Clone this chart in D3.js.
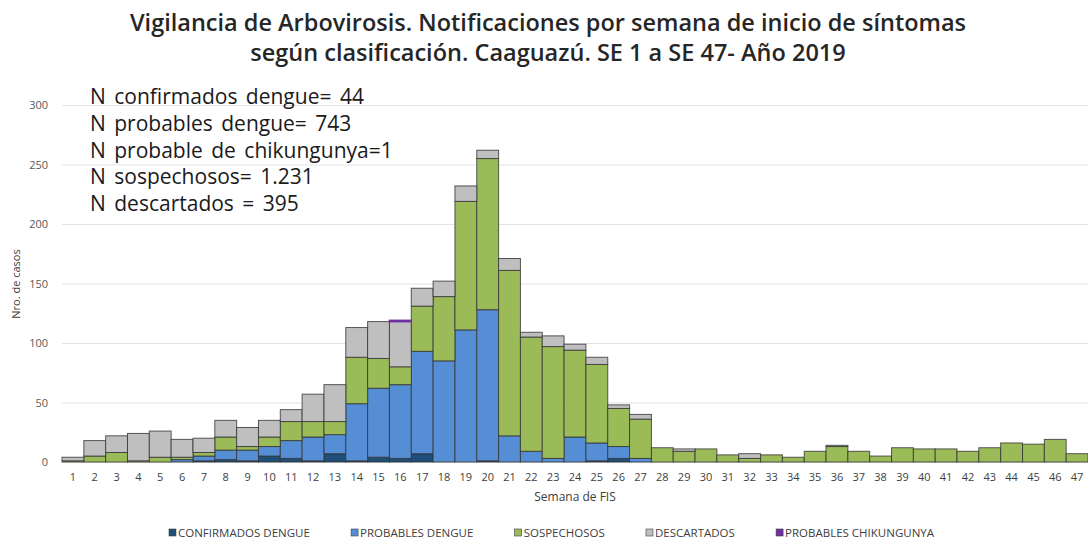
<!DOCTYPE html>
<html>
<head>
<meta charset="utf-8">
<script src="https://cdn.jsdelivr.net/npm/d3@7"></script>
<style>
  html, body { margin: 0; padding: 0; background: #fff; }
  svg { display: block; font-family: "Open Sans", "Noto Sans", sans-serif; }
</style>
</head>
<body>
<svg id="chart" width="1088" height="542"></svg>
<script>
// Semanas epidemiologicas 1..47
const weeks = d3.range(1, 48);

// Series (casos por semana)
const confirmados = [0,0,0,0,0,0,1,2,1,5,3,1,7,1,4,3,7,0,0,1,0,0,0,0,1,3,0,0,0,0,0,0,0,0,0,0,0,0,0,0,0,0,0,0,0,0,0];
const probables   = [0,0,0,0,0,2,4,8,9,8,15,20,16,48,58,62,86,85,111,127,22,9,3,21,15,10,3,0,0,0,0,0,0,0,0,0,0,0,0,0,0,0,0,0,0,0,0];
const sospechosos = [1,5,8,1,4,2,3,11,3,8,16,13,11,39,25,15,38,54,108,127,139,96,94,73,66,32,33,12,9,11,6,3,6,4,9,13,9,5,12,11,11,9,12,16,15,19,7];
const descartados = [3,13,14,23,22,15,12,14,16,14,10,23,31,25,31,38,15,13,13,7,10,4,9,5,6,3,4,0,2,0,0,4,0,0,0,1,0,0,0,0,0,0,0,0,0,0,0];
const chikungunya = [0,0,0,0,0,0,0,0,0,0,0,0,0,0,0,1,0,0,0,0,0,0,0,0,0,0,0,0,0,0,0,0,0,0,0,0,0,0,0,0,0,0,0,0,0,0,0];

const seriesKeys   = ['conf', 'prob', 'sosp', 'desc', 'chik'];
const seriesLabels = ['CONFIRMADOS DENGUE', 'PROBABLES DENGUE', 'SOSPECHOSOS', 'DESCARTADOS', 'PROBABLES CHIKUNGUNYA'];
const seriesColors = ['#1f4e79', '#558ed5', '#9bbb59', '#bfbfbf', '#7030a0'];

const yTicks = [0, 50, 100, 150, 200, 250, 300];

const titleLines = [
  'Vigilancia de Arbovirosis. Notificaciones por semana de inicio de síntomas',
  'según clasificación. Caaguazú. SE 1 a SE 47- Año 2019'
];
const notes = [
  'N confirmados dengue= 44',
  'N probables dengue= 743',
  'N probable de chikungunya=1',
  'N sospechosos= 1.231',
  'N descartados = 395'
];

const rows = weeks.map((w, i) => ({
  week: w,
  conf: confirmados[i],
  prob: probables[i],
  sosp: sospechosos[i],
  desc: descartados[i],
  chik: chikungunya[i]
}));

const svg = d3.select('#chart');
const plot = { left: 62, right: 1088, top: 105, bottom: 462 };

const x = d3.scaleBand().domain(weeks).range([plot.left, plot.right]).padding(0);
const y = d3.scaleLinear().domain([0, 300]).range([plot.bottom, plot.top]);
const color = d3.scaleOrdinal().domain(seriesKeys).range(seriesColors);

// titulo
svg.append('g').selectAll('text').data(titleLines).join('text')
  .attr('x', 548).attr('y', (d, i) => 31 + i * 30)
  .attr('text-anchor', 'middle')
  .attr('font-size', 23.5).attr('font-weight', 600).attr('fill', '#262626')
  .text(d => d);

// grilla
svg.append('g')
  .attr('transform', `translate(${plot.left},0)`)
  .call(d3.axisLeft(y).tickValues(yTicks).tickSize(-(plot.right - plot.left)).tickFormat(''))
  .call(g => g.select('.domain').remove())
  .call(g => g.selectAll('line').attr('stroke', '#e3e3e3').attr('stroke-width', 1.2));

// eje y
svg.append('g')
  .attr('transform', `translate(${plot.left - 6},0)`)
  .call(d3.axisLeft(y).tickValues(yTicks).tickSize(0).tickPadding(8))
  .call(g => g.select('.domain').remove())
  .call(g => g.selectAll('text').attr('font-size', 11).attr('fill', '#595959').attr('font-family', '"Open Sans", sans-serif'));

svg.append('text')
  .attr('transform', 'translate(20,284) rotate(-90)')
  .attr('text-anchor', 'middle')
  .attr('font-size', 11).attr('fill', '#404040')
  .text('Nro. de casos');

// barras apiladas
const stacked = d3.stack().keys(seriesKeys)(rows);
svg.append('g').selectAll('g').data(stacked).join('g')
  .attr('fill', d => color(d.key))
  .attr('stroke', d => d.key === 'chik' ? color(d.key) : '#333')
  .attr('stroke-opacity', d => d.key === 'chik' ? 1 : 0.8)
  .attr('stroke-width', d => d.key === 'chik' ? 1.6 : 1)
  .selectAll('rect')
  .data(d => d.filter(s => s[1] > s[0]))
  .join('rect')
  .attr('x', d => x(d.data.week))
  .attr('width', x.bandwidth())
  .attr('y', d => y(d[1]))
  .attr('height', d => y(d[0]) - y(d[1]));

// eje x
svg.append('g')
  .attr('transform', `translate(0,${plot.bottom})`)
  .call(d3.axisBottom(x).tickSize(0).tickPadding(11))
  .call(g => g.select('.domain').remove())
  .call(g => g.selectAll('text').attr('font-size', 11).attr('fill', '#404040').attr('font-family', '"Open Sans", sans-serif'));

svg.append('text')
  .attr('x', 575).attr('y', 501)
  .attr('text-anchor', 'middle')
  .attr('font-size', 12).attr('fill', '#404040')
  .text('Semana de FIS');

// notas
svg.append('g').selectAll('text').data(notes).join('text')
  .attr('x', 90).attr('y', (d, i) => 104 + i * 26.8)
  .attr('font-size', 21).attr('word-spacing', 3).attr('fill', '#1a1a1a')
  .text(d => d);

// leyenda: entradas repartidas entre x=169 y x=934
const legend = svg.append('g').selectAll('g').data(seriesKeys).join('g');
legend.append('rect')
  .attr('x', 0).attr('y', -4).attr('width', 7).attr('height', 7)
  .attr('fill', d => color(d)).attr('stroke', '#404040').attr('stroke-width', 0.6);
legend.append('text')
  .attr('x', 9).attr('y', 4)
  .attr('font-size', 11.5).attr('fill', '#404040')
  .text((d, i) => seriesLabels[i]);
const widths = legend.nodes().map(n => 9 + n.querySelector('text').getComputedTextLength());
const gap = (934 - 169 - d3.sum(widths)) / (widths.length - 1);
let lx = 169;
legend.each(function (d, i) {
  d3.select(this).attr('transform', `translate(${lx},533)`);
  lx += widths[i] + gap;
});
</script>
</body>
</html>
